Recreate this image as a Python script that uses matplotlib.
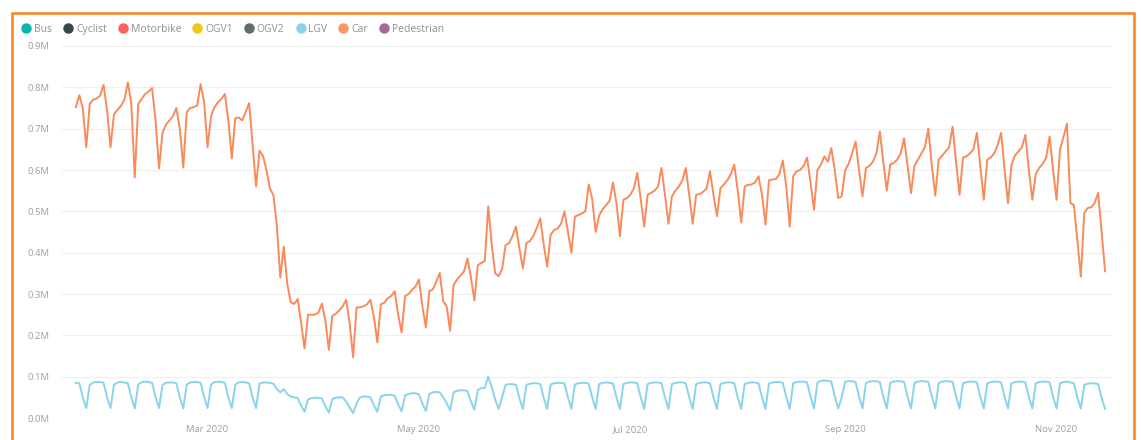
import datetime as dt
import matplotlib
matplotlib.use("Agg")
import matplotlib.pyplot as plt
from matplotlib.lines import Line2D
from matplotlib.patches import Rectangle
from matplotlib.ticker import FuncFormatter
import matplotlib.dates as mdates

plt.rcParams['font.family'] = ['Open Sans', 'DejaVu Sans']

# legend categories (Power BI default palette)
categories = ["Bus", "Cyclist", "Motorbike", "OGV1", "OGV2", "LGV", "Car", "Pedestrian"]
cat_colors = ["#01B8AA", "#374649", "#FD625E", "#F2C80F", "#5F6B6D", "#8AD4EB", "#FE9666", "#A66999"]

start_date = dt.date(2020, 1, 23)

# daily counts, millions
car = [
    0.752, 0.781, 0.750, 0.655,
    0.760, 0.770, 0.773, 0.780, 0.806, 0.745, 0.655,
    0.735, 0.745, 0.755, 0.770, 0.812, 0.760, 0.582,
    0.760, 0.772, 0.784, 0.790, 0.798, 0.720, 0.604,
    0.690, 0.710, 0.720, 0.730, 0.750, 0.700, 0.606,
    0.740, 0.750, 0.752, 0.756, 0.808, 0.765, 0.655,
    0.730, 0.752, 0.764, 0.772, 0.784, 0.720, 0.628,
    0.725, 0.727, 0.720, 0.740, 0.762, 0.660, 0.560,
    0.647, 0.634, 0.600, 0.555, 0.540, 0.465, 0.340,
    0.415, 0.325, 0.280, 0.276, 0.288, 0.230, 0.168,
    0.250, 0.250, 0.250, 0.255, 0.277, 0.235, 0.165,
    0.247, 0.252, 0.260, 0.270, 0.286, 0.230, 0.147,
    0.267, 0.268, 0.270, 0.275, 0.286, 0.245, 0.183,
    0.275, 0.279, 0.290, 0.295, 0.307, 0.250, 0.207,
    0.295, 0.300, 0.310, 0.318, 0.335, 0.270, 0.219,
    0.307, 0.311, 0.330, 0.351, 0.283, 0.270, 0.211,
    0.322, 0.335, 0.345, 0.354, 0.386, 0.340, 0.285,
    0.370, 0.375, 0.380, 0.512, 0.420, 0.350, 0.343,
    0.360, 0.418, 0.423, 0.440, 0.463, 0.410, 0.362,
    0.423, 0.428, 0.440, 0.460, 0.483, 0.420, 0.366,
    0.443, 0.455, 0.458, 0.470, 0.500, 0.450, 0.400,
    0.487, 0.491, 0.495, 0.500, 0.565, 0.530, 0.450,
    0.490, 0.505, 0.515, 0.525, 0.570, 0.520, 0.440,
    0.528, 0.532, 0.540, 0.555, 0.593, 0.530, 0.463,
    0.540, 0.545, 0.550, 0.560, 0.605, 0.540, 0.470,
    0.536, 0.550, 0.560, 0.575, 0.605, 0.540, 0.470,
    0.540, 0.542, 0.547, 0.555, 0.597, 0.540, 0.488,
    0.556, 0.565, 0.575, 0.590, 0.613, 0.550, 0.473,
    0.560, 0.564, 0.565, 0.570, 0.585, 0.540, 0.468,
    0.575, 0.577, 0.578, 0.590, 0.623, 0.560, 0.463,
    0.585, 0.597, 0.600, 0.610, 0.630, 0.570, 0.504,
    0.600, 0.613, 0.633, 0.620, 0.653, 0.600, 0.532,
    0.536, 0.600, 0.615, 0.640, 0.669, 0.600, 0.536,
    0.605, 0.610, 0.620, 0.640, 0.693, 0.620, 0.550,
    0.613, 0.617, 0.625, 0.640, 0.677, 0.610, 0.544,
    0.610, 0.625, 0.640, 0.655, 0.700, 0.610, 0.538,
    0.625, 0.635, 0.645, 0.655, 0.705, 0.620, 0.540,
    0.630, 0.633, 0.640, 0.650, 0.690, 0.610, 0.528,
    0.625, 0.630, 0.640, 0.660, 0.690, 0.600, 0.520,
    0.613, 0.635, 0.645, 0.655, 0.685, 0.600, 0.528,
    0.590, 0.605, 0.615, 0.630, 0.681, 0.600, 0.528,
    0.650, 0.680, 0.712, 0.520, 0.515, 0.430, 0.342,
    0.496, 0.508, 0.510, 0.520, 0.545, 0.450, 0.355,
]

lgv = [
    0.085, 0.084, 0.050, 0.024,
    0.080, 0.086, 0.087, 0.087, 0.085, 0.050, 0.024,
    0.080, 0.086, 0.087, 0.086, 0.084, 0.050, 0.023,
    0.081, 0.087, 0.088, 0.087, 0.085, 0.051, 0.024,
    0.080, 0.085, 0.086, 0.086, 0.084, 0.050, 0.023,
    0.081, 0.086, 0.087, 0.087, 0.085, 0.051, 0.024,
    0.081, 0.087, 0.088, 0.087, 0.085, 0.050, 0.024,
    0.081, 0.086, 0.087, 0.086, 0.084, 0.050, 0.024,
    0.083, 0.086, 0.086, 0.085, 0.083, 0.070, 0.062,
    0.070, 0.058, 0.052, 0.050, 0.048, 0.030, 0.015,
    0.045, 0.048, 0.049, 0.049, 0.047, 0.028, 0.013,
    0.046, 0.049, 0.050, 0.050, 0.040, 0.026, 0.012,
    0.035, 0.050, 0.052, 0.052, 0.050, 0.030, 0.015,
    0.052, 0.055, 0.056, 0.056, 0.054, 0.033, 0.016,
    0.055, 0.058, 0.060, 0.060, 0.057, 0.035, 0.017,
    0.058, 0.062, 0.063, 0.062, 0.050, 0.036, 0.018,
    0.062, 0.066, 0.067, 0.067, 0.065, 0.040, 0.020,
    0.068, 0.072, 0.073, 0.100, 0.075, 0.045, 0.022,
    0.050, 0.080, 0.082, 0.082, 0.080, 0.048, 0.022,
    0.080, 0.083, 0.084, 0.084, 0.082, 0.049, 0.022,
    0.081, 0.084, 0.085, 0.085, 0.083, 0.050, 0.022,
    0.081, 0.084, 0.085, 0.085, 0.083, 0.050, 0.022,
    0.082, 0.085, 0.086, 0.085, 0.083, 0.050, 0.022,
    0.082, 0.085, 0.086, 0.086, 0.084, 0.050, 0.022,
    0.082, 0.085, 0.086, 0.086, 0.084, 0.050, 0.022,
    0.082, 0.085, 0.086, 0.086, 0.084, 0.050, 0.022,
    0.082, 0.085, 0.086, 0.086, 0.084, 0.050, 0.022,
    0.082, 0.085, 0.086, 0.086, 0.084, 0.050, 0.022,
    0.082, 0.085, 0.086, 0.086, 0.084, 0.050, 0.022,
    0.083, 0.086, 0.087, 0.087, 0.085, 0.051, 0.022,
    0.084, 0.087, 0.088, 0.088, 0.086, 0.052, 0.023,
    0.086, 0.090, 0.091, 0.090, 0.088, 0.053, 0.023,
    0.050, 0.088, 0.089, 0.089, 0.087, 0.052, 0.023,
    0.085, 0.088, 0.089, 0.089, 0.087, 0.052, 0.023,
    0.085, 0.088, 0.089, 0.089, 0.087, 0.052, 0.023,
    0.085, 0.088, 0.089, 0.089, 0.087, 0.052, 0.023,
    0.085, 0.088, 0.089, 0.089, 0.087, 0.052, 0.023,
    0.084, 0.087, 0.088, 0.088, 0.086, 0.051, 0.023,
    0.084, 0.087, 0.088, 0.088, 0.086, 0.051, 0.023,
    0.084, 0.087, 0.088, 0.088, 0.086, 0.051, 0.023,
    0.084, 0.087, 0.088, 0.088, 0.086, 0.051, 0.023,
    0.084, 0.087, 0.088, 0.086, 0.084, 0.050, 0.023,
    0.080, 0.083, 0.084, 0.084, 0.082, 0.049, 0.022,
]

y_ticks = [0.0, 0.1, 0.2, 0.3, 0.4, 0.5, 0.6, 0.7, 0.8, 0.9]
x_ticks = [dt.date(2020, 3, 1), dt.date(2020, 5, 1), dt.date(2020, 7, 1),
           dt.date(2020, 9, 1), dt.date(2020, 11, 1)]

dates = [start_date + dt.timedelta(days=i) for i in range(len(car))]

W, H = 1141, 440
fig = plt.figure(figsize=(W / 100, H / 100), dpi=100)
ax = fig.add_axes([62 / W, (H - 418) / H, (1112 - 62) / W, (418 - 46) / H])

ax.plot(dates, lgv, color="#8AD4EB", lw=1.4)
ax.plot(dates, car, color="#F98A5C", lw=1.4)

ax.set_ylim(0, 0.9)
ax.set_xlim(start_date - dt.timedelta(days=4.4), start_date + dt.timedelta(days=299.3))
ax.set_yticks(y_ticks)
ax.yaxis.set_major_formatter(FuncFormatter(lambda v, p: f"{v:.1f}M"))
ax.set_xticks(x_ticks)
ax.xaxis.set_major_formatter(mdates.DateFormatter("%b %Y"))
ax.tick_params(length=0, labelsize=6.8, colors="#a0a0a0")
ax.tick_params(axis="y", pad=9)
ax.tick_params(axis="x", pad=5)
ax.grid(axis="y", color="#f0f0f0", lw=0.9)
ax.set_axisbelow(True)
for s in ax.spines.values():
    s.set_visible(False)

handles = [Line2D([], [], marker="o", ls="", color=c, markersize=6.5) for c in cat_colors]
leg = fig.legend(handles, categories, loc="upper left", bbox_to_anchor=(21 / W, 1 - 24 / H),
                 ncol=len(categories), frameon=False, fontsize=7.5, handlelength=1.0,
                 handletextpad=0.25, columnspacing=1.05, borderaxespad=0, borderpad=0)
for t in leg.get_texts():
    t.set_color("#909090")

# orange frame around the visual
fig.patches.append(Rectangle((12 / W, -0.02), (1134 - 12) / W, 1.02 - 13 / H,
                             transform=fig.transFigure, fill=False,
                             edgecolor="#F5841F", lw=1.8))

fig.savefig("out.png", dpi=100)
